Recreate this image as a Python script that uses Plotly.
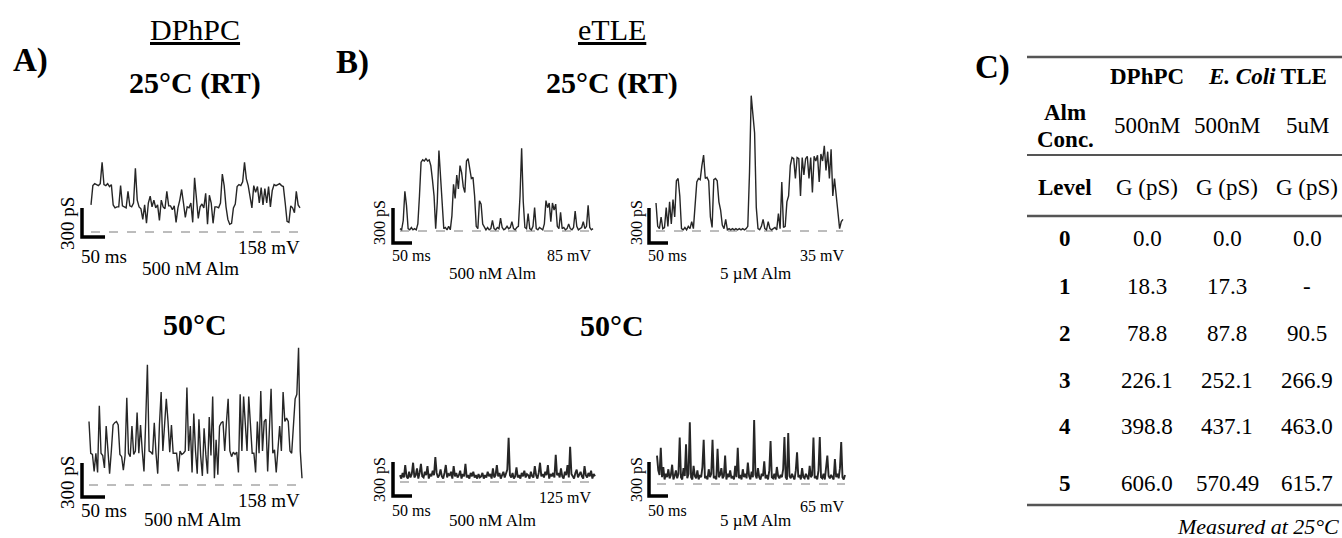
import plotly.graph_objects as go

# ---------------- data (conductance in pS, equally spaced samples) ----------------
dphpc_25 = [280, 480, 500, 490, 480, 500, 720, 490, 480, 500, 470, 490, 280, 250, 260, 260, 480, 270,
            260, 250, 420, 270, 260, 300, 660, 330, 260, 240, 130, 280, 90, 300, 370, 260, 330, 250,
            280, 120, 330, 260, 240, 420, 270, 270, 230, 270, 100, 250, 330, 440, 300, 150, 260, 250,
            300, 100, 560, 300, 140, 260, 290, 250, 400, 80, 380, 300, 90, 260, 260, 250, 300, 600,
            480, 260, 130, 80, 90, 250, 290, 470, 490, 480, 520, 720, 550, 480, 360, 250, 480, 410,
            470, 300, 460, 280, 450, 300, 470, 260, 430, 490, 480, 490, 500, 480, 470, 300, 110, 100,
            270, 250, 200, 420, 280, 250]

dphpc_50 = [560, 280, 270, 120, 280, 110, 700, 280, 260, 150, 520, 260, 100, 300, 530, 550, 560, 530,
            270, 250, 130, 260, 770, 280, 250, 520, 270, 300, 640, 280, 530, 300, 120, 560, 1060, 300,
            290, 270, 550, 280, 100, 530, 820, 300, 560, 760, 560, 290, 530, 280, 280, 280, 120, 300,
            270, 280, 300, 860, 300, 520, 110, 630, 300, 100, 580, 260, 80, 500, 270, 100, 600, 260,
            780, 60, 400, 90, 520, 550, 560, 300, 550, 760, 300, 250, 290, 270, 290, 110, 800, 300,
            780, 530, 300, 780, 540, 280, 280, 110, 560, 280, 830, 300, 560, 580, 120, 540, 850, 280,
            310, 110, 300, 520, 300, 820, 560, 590, 560, 300, 280, 480, 760, 800, 1210, 300, 60]

etle_500_25 = [20, 10, 90, 340, 220, 20, 10, 30, 10, 20, 10, 60, 300, 590, 610, 600, 620, 600, 610, 560,
               440, 300, 20, 250, 690, 450, 200, 20, 30, 10, 40, 10, 130, 400, 280, 480, 360, 560, 500,
               380, 330, 600, 620, 530, 450, 460, 300, 40, 20, 260, 230, 60, 30, 10, 30, 10, 20, 90, 20,
               10, 30, 20, 110, 30, 10, 20, 40, 20, 30, 80, 20, 10, 30, 40, 300, 710, 250, 30, 20, 150,
               20, 10, 40, 200, 20, 10, 30, 20, 10, 60, 260, 200, 240, 80, 240, 180, 230, 40, 20, 160,
               20, 30, 10, 20, 60, 20, 10, 30, 170, 40, 10, 20, 30, 80, 20, 40, 220, 30, 10, 20]

etle_5u_25 = [240, 40, 20, 120, 20, 30, 200, 40, 250, 60, 270, 120, 430, 450, 300, 20, 10, 30, 10, 40,
              20, 80, 20, 200, 420, 450, 440, 560, 650, 450, 460, 430, 120, 30, 440, 450, 430, 250, 180,
              50, 20, 100, 10, 20, 10, 20, 10, 20, 10, 20, 10, 20, 10, 20, 40, 500, 1160, 1000, 840, 200,
              20, 10, 40, 100, 20, 10, 80, 20, 10, 20, 30, 10, 150, 20, 420, 30, 40, 250, 300, 560, 630,
              620, 450, 630, 620, 300, 630, 480, 620, 640, 450, 630, 330, 640, 600, 650, 420, 660, 600,
              730, 520, 680, 450, 700, 300, 450, 300, 150, 20, 80, 100]

etle_500_50 = [60, 30, 80, 40, 150, 50, 30, 90, 40, 70, 170, 40, 60, 120, 30, 80, 160, 50, 40, 90,
               60, 140, 30, 70, 50, 100, 60, 220, 80, 40, 60, 110, 50, 30, 80, 150, 40, 70, 60, 90,
               30, 140, 50, 80, 40, 60, 100, 30, 70, 50, 160, 40, 60, 30, 80, 50, 90, 40, 60, 30,
               70, 40, 50, 80, 30, 60, 40, 90, 50, 70, 30, 120, 40, 60, 150, 50, 80, 30, 60, 90,
               40, 70, 110, 390, 60, 40, 80, 30, 50, 130, 40, 60, 30, 80, 50, 100, 40, 70, 60, 30,
               90, 50, 40, 140, 60, 30, 80, 170, 50, 70, 40, 90, 60, 150, 30, 70, 50, 80, 40, 240,
               60, 80, 40, 120, 50, 30, 90, 60, 150, 40, 310, 70, 50, 30, 80, 110, 40, 60, 90, 50,
               30, 140, 60, 40, 80, 50, 100, 30, 70, 50]

etle_5u_50 = [250, 120, 80, 320, 60, 150, 40, 90, 60, 130, 50, 80, 170, 40, 70, 120, 50, 90, 410, 60,
              40, 140, 70, 350, 50, 90, 545, 60, 40, 160, 70, 50, 120, 40, 80, 60, 150, 390, 50, 70,
              40, 130, 60, 90, 390, 50, 70, 40, 310, 60, 80, 140, 50, 70, 250, 40, 90, 60, 120, 50,
              70, 40, 160, 60, 320, 50, 80, 40, 130, 60, 90, 50, 190, 70, 40, 110, 60, 565, 80, 50,
              140, 60, 40, 90, 70, 200, 50, 80, 40, 120, 380, 60, 50, 90, 40, 150, 70, 50, 80, 60,
              130, 415, 60, 40, 450, 70, 50, 90, 60, 40, 120, 280, 60, 80, 40, 140, 60, 50, 90, 70,
              40, 160, 60, 80, 410, 50, 70, 40, 120, 415, 60, 50, 90, 40, 130, 250, 70, 50, 80, 60,
              40, 220, 60, 90, 50, 140, 370, 60, 40, 80]

# durations (ms) of each recording window
durations = [454, 463, 508, 492, 513, 495]
voltages = ["158 mV", "158 mV", "85 mV", "35 mV", "125 mV", "65 mV"]
concs = ["500 nM Alm", "500 nM Alm", "500 nM Alm", "5 µM Alm", "500 nM Alm", "5 µM Alm"]

# table data
tbl_levels = ["0", "1", "2", "3", "4", "5"]
tbl_dphpc = ["0.0", "18.3", "78.8", "226.1", "398.8", "606.0"]
tbl_ecoli_500 = ["0.0", "17.3", "87.8", "252.1", "437.1", "570.49"]
tbl_ecoli_5u = ["0.0", "-", "90.5", "266.9", "463.0", "615.7"]

# ---------------- layout helpers ----------------
W, H = 1342, 538
FONT = "Liberation Serif, Times New Roman, serif"


def fx(px):
    return px / W


def fy(py):
    return 1 - py / H


# panel geometry (window pixels): trace x0, x1, baseline y, 300 pS bar height, scale-bar corner
geom = [
    dict(x0=91, x1=300, base=232, bar=29, cx=82, cy=237, fs=19, cfs=19),
    dict(x0=89, x1=302, base=485, bar=34, cx=82, cy=497, fs=19, cfs=19),
    dict(x0=400, x1=593, base=231, bar=35, cx=393, cy=243, fs=16, cfs=17),
    dict(x0=656, x1=843, base=231, bar=35, cx=649, cy=243, fs=16, cfs=17),
    dict(x0=400, x1=595, base=482, bar=34, cx=393, cy=496, fs=16, cfs=17),
    dict(x0=657, x1=845, base=484, bar=34, cx=649, cy=496, fs=16, cfs=17),
]
series = [dphpc_25, dphpc_50, etle_500_25, etle_5u_25, etle_500_50, etle_5u_50]
line_w = [1.4, 1.4, 1.4, 1.4, 1.9, 1.9]

# label positions (window pixels)
lab_pos = [
    dict(ps=(67, 224), ms=(79, 256), mv=(302, 247), cc=(190, 268)),
    dict(ps=(67, 483), ms=(79, 510), mv=(302, 500), cc=(192, 519)),
    dict(ps=(380, 223), ms=(390, 255), mv=(593, 255), cc=(492, 273)),
    dict(ps=(637, 223), ms=(646, 255), mv=(846, 255), cc=(755, 273)),
    dict(ps=(380, 480), ms=(390, 510), mv=(593, 497), cc=(492, 520)),
    dict(ps=(637, 480), ms=(646, 510), mv=(846, 506), cc=(755, 520)),
]

fig = go.Figure()
annotations = []
shapes = []


def ann(text, x, y, size, xanchor="center", angle=0, color="black"):
    annotations.append(dict(text=text, x=fx(x), y=fy(y), xref="paper", yref="paper",
                            xanchor=xanchor, yanchor="middle", showarrow=False,
                            textangle=angle, font=dict(family=FONT, size=size, color=color)))


for i, (vals, g, dur) in enumerate(zip(series, geom, durations)):
    k = i + 1
    xa = "x" if k == 1 else f"x{k}"
    ya = "y" if k == 1 else f"y{k}"
    mpp = dur / (g["x1"] - g["x0"])
    ppp = 300 / g["bar"]
    L, R = g["cx"] - 6, g["x1"] + 4
    T, B = g["base"] - 150, g["cy"] + 6
    xr = [(L - g["x0"]) * mpp, (R - g["x0"]) * mpp]
    yr = [(g["base"] - B) * ppp, (g["base"] - T) * ppp]
    axx = dict(domain=[fx(L), fx(R)], range=xr, visible=False, fixedrange=True, anchor=ya)
    axy = dict(domain=[fy(B), fy(T)], range=yr, visible=False, fixedrange=True, anchor=xa)
    fig.update_layout(**{("xaxis" if k == 1 else f"xaxis{k}"): axx,
                         ("yaxis" if k == 1 else f"yaxis{k}"): axy})
    n = len(vals)
    dt = dur / (n - 1)
    t = [j * dt for j in range(n)]
    # dashed zero-conductance line
    fig.add_trace(go.Scatter(x=[0, dur], y=[0, 0], mode="lines", xaxis=xa, yaxis=ya,
                             line=dict(color="#7a7a7a", width=1, dash="dash"),
                             hoverinfo="skip", showlegend=False))
    # current trace
    fig.add_trace(go.Scatter(x=t, y=vals, mode="lines", xaxis=xa, yaxis=ya,
                             line=dict(color="#262626", width=line_w[i]),
                             showlegend=False))
    # scale bar (300 pS x 50 ms)
    sbx = (g["cx"] - g["x0"]) * mpp
    sby = (g["base"] - g["cy"]) * ppp
    fig.add_trace(go.Scatter(x=[sbx, sbx, sbx + 50], y=[sby + 300, sby, sby], mode="lines",
                             xaxis=xa, yaxis=ya, line=dict(color="black", width=3.5),
                             hoverinfo="skip", showlegend=False))
    lp = lab_pos[i]
    fs = g["fs"]
    ann("300 pS", lp["ps"][0], lp["ps"][1], fs, angle=-90)
    ann("50 ms", lp["ms"][0], lp["ms"][1], fs, xanchor="left")
    ann(voltages[i], lp["mv"][0], lp["mv"][1], fs, xanchor="right")
    ann(concs[i], lp["cc"][0], lp["cc"][1], g["cfs"])

# headings
ann("<u>DPhPC</u>", 195, 30, 30)
ann("<u>eTLE</u>", 612, 30, 30)
ann("<b>A)</b>", 30, 61, 33)
ann("<b>B)</b>", 352, 62, 33)
ann("<b>C)</b>", 992, 67, 33)
ann("<b>25°C (RT)</b>", 195, 83, 30)
ann("<b>25°C (RT)</b>", 612, 83, 30)
ann("<b>50°C</b>", 195, 324, 30)
ann("<b>50°C</b>", 612, 325, 30)

# table
TS = 23
col_x = [1065, 1147, 1227, 1307]
ann("<b>DPhPC</b>", col_x[1], 77, TS)
ann("<b><i>E. Coli</i> TLE</b>", 1267, 77, TS)
ann("<b>Alm</b>", col_x[0], 113, TS)
ann("<b>Conc.</b>", col_x[0], 140, TS)
for cx, txt in zip(col_x[1:], ["500nM", "500nM", "5uM"]):
    ann(txt, cx, 126, TS)
ann("<b>Level</b>", col_x[0], 187, TS)
for cx in col_x[1:]:
    ann("G (pS)", cx, 187, TS)
row_y = [239, 286, 333, 380, 427, 483]
for r, yy in enumerate(row_y):
    ann(f"<b>{tbl_levels[r]}</b>", col_x[0], yy, TS)
    ann(tbl_dphpc[r], col_x[1], yy, TS)
    ann(tbl_ecoli_500[r], col_x[2], yy, TS)
    ann(tbl_ecoli_5u[r], col_x[3], yy, TS)
ann("<i>Measured at 25°C</i>", 1341, 526, 22, xanchor="right")

for yy, wdt in [(57, 2.5), (155, 2), (216, 2.5), (505, 2.5)]:
    shapes.append(dict(type="line", xref="paper", yref="paper", x0=fx(1027), x1=fx(1342),
                       y0=fy(yy), y1=fy(yy), line=dict(color="#555555", width=wdt)))

fig.update_layout(width=W, height=H, margin=dict(l=0, r=0, t=0, b=0),
                  paper_bgcolor="white", plot_bgcolor="rgba(0,0,0,0)",
                  annotations=annotations, shapes=shapes, showlegend=False,
                  font=dict(family=FONT))

# remove the default 8px page margin so the figure fills the window exactly
fig.write_html("out.html",
               config={"displayModeBar": False},
               post_script="document.body.style.margin='0';"
                           "document.documentElement.style.overflow='hidden';")
